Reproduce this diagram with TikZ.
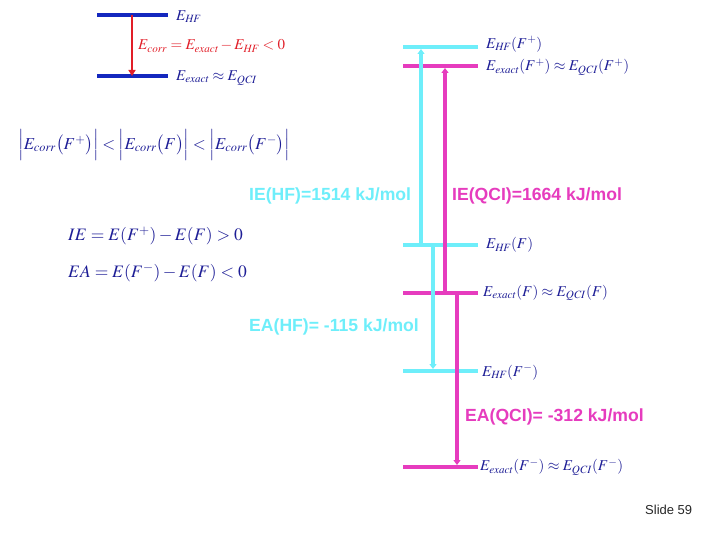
\documentclass[tikz,border=0pt]{standalone}
\usepackage{mathptmx}
\usepackage{fontspec}
\newfontfamily\arialfont{Liberation Sans}
\usetikzlibrary{arrows.meta}
\definecolor{lvlblue}{RGB}{20,40,190}
\definecolor{txtblue}{RGB}{30,30,150}
\definecolor{arrred}{RGB}{225,30,40}
\definecolor{cyanlvl}{RGB}{110,238,250}
\definecolor{maglvl}{RGB}{230,60,190}
\newcommand{\sub}[1]{\mathit{#1}}
\tikzset{
  level/.style={line width=4pt},
  uparrow/.style={line width=3.5pt,-{Triangle[length=5pt,width=7pt]}},
  mlabel/.style={anchor=west,inner sep=0pt,text=txtblue,font=\fontsize{15}{18}\selectfont},
  valabel/.style={anchor=west,inner sep=0pt,font=\arialfont\bfseries\fontsize{17.6}{20}\selectfont}
}
\begin{document}
\begin{tikzpicture}[x=1pt,y=-1pt]
\useasboundingbox (0,0) rectangle (720,540);
% top-left scheme
\coordinate (tlA) at (97,15); \coordinate (tlB) at (168,15);
\coordinate (tlC) at (97,76); \coordinate (tlD) at (168,76);
\draw[level,lvlblue] (tlA) -- (tlB);
\draw[level,lvlblue] (tlC) -- (tlD);
\coordinate (rs) at (132,15); \coordinate (re) at (132,76);
\draw[line width=2.5pt,arrred,-{Triangle[length=6pt,width=7pt]}] (rs) -- (re);
\node[mlabel] (eHF) at (176,17) {$E_{\sub{HF}}$};
\node[mlabel,text=arrred] (ecorr) at (138,46) {$E_{\sub{corr}}=E_{\sub{exact}}-E_{\sub{HF}}<0$};
\node[mlabel] (eex) at (176,78) {$E_{\sub{exact}}\approx E_{\sub{QCI}}$};
% inequality
\node[mlabel,font=\fontsize{16.7}{20}\selectfont] (ineq) at (18,145)
 {$\Bigl|E_{\sub{corr}}\bigl(F^{+}\bigr)\Bigr|<\Bigl|E_{\sub{corr}}\bigl(F\bigr)\Bigr|<\Bigl|E_{\sub{corr}}\bigl(F^{-}\bigr)\Bigr|$};
% IE / EA definitions
\node[mlabel,font=\fontsize{17.5}{20}\selectfont] (ie) at (68,236) {$IE=E(F^{+})-E(F)>0$};
\node[mlabel,font=\fontsize{17.5}{20}\selectfont] (ea) at (68,273) {$EA=E(F^{-})-E(F)<0$};
% levels on the right
\coordinate (L1a) at (403,47);  \coordinate (L1b) at (478,47);
\coordinate (L2a) at (403,66);  \coordinate (L2b) at (478,66);
\coordinate (L3a) at (403,245); \coordinate (L3b) at (478,245);
\coordinate (L4a) at (403,293); \coordinate (L4b) at (478,293);
\coordinate (L5a) at (403,371); \coordinate (L5b) at (478,371);
\coordinate (L6a) at (403,467); \coordinate (L6b) at (478,467);
\draw[level,cyanlvl] (L1a) -- (L1b);
\draw[level,maglvl] (L2a) -- (L2b);
\draw[level,cyanlvl] (L3a) -- (L3b);
\draw[level,maglvl] (L4a) -- (L4b);
\draw[level,cyanlvl] (L5a) -- (L5b);
\draw[level,maglvl] (L6a) -- (L6b);
% arrows
\coordinate (a1s) at (421,245); \coordinate (a1e) at (421,49);
\coordinate (a2s) at (445,293); \coordinate (a2e) at (445,68);
\coordinate (a3s) at (433,245); \coordinate (a3e) at (433,369);
\coordinate (a4s) at (457,293); \coordinate (a4e) at (457,465);
\draw[uparrow,cyanlvl] (a1s) -- (a1e);
\draw[uparrow,maglvl] (a2s) -- (a2e);
\draw[uparrow,cyanlvl] (a3s) -- (a3e);
\draw[uparrow,maglvl] (a4s) -- (a4e);
% level labels
\node[mlabel] (t1) at (486,44) {$E_{\sub{HF}}(F^{+})$};
\node[mlabel] (t2) at (486,67) {$E_{\sub{exact}}(F^{+})\approx E_{\sub{QCI}}(F^{+})$};
\node[mlabel] (t3) at (486,245) {$E_{\sub{HF}}(F)$};
\node[mlabel] (t4) at (483,293) {$E_{\sub{exact}}(F)\approx E_{\sub{QCI}}(F)$};
\node[mlabel] (t5) at (482,372) {$E_{\sub{HF}}(F^{-})$};
\node[mlabel] (t6) at (480,467) {$E_{\sub{exact}}(F^{-})\approx E_{\sub{QCI}}(F^{-})$};
% value labels
\node[valabel,text=cyanlvl] (v1) at (249,196) {IE(HF)=1514 kJ/mol};
\node[valabel,text=maglvl] (v2) at (452,196) {IE(QCI)=1664 kJ/mol};
\node[valabel,text=cyanlvl] (v3) at (249,327) {EA(HF)= -115 kJ/mol};
\node[valabel,text=maglvl] (v4) at (465,417) {EA(QCI)= -312 kJ/mol};
% slide number
\node[anchor=west,inner sep=0pt,font=\arialfont\fontsize{13}{15}\selectfont,text=black!85] (sl) at (645,510) {Slide 59};
\end{tikzpicture}
\end{document}
